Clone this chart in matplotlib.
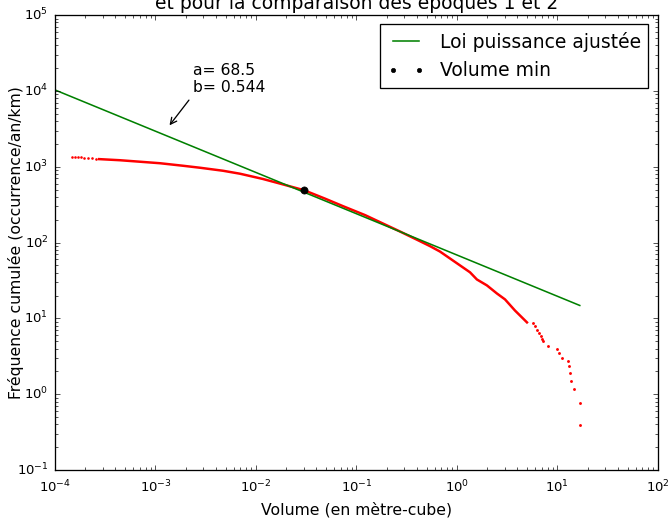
import matplotlib
matplotlib.use('Agg')
import matplotlib.pyplot as plt

head_vol = [1.48e-4, 1.58e-4, 1.69e-4, 1.82e-4, 1.95e-4, 2.13e-4, 2.33e-4, 2.56e-4]
head_freq = [1355, 1355, 1334, 1334, 1312, 1294, 1294, 1274]

dense_vol = [2.75e-4, 4.44e-4, 7.02e-4, 1.11e-3, 1.88e-3, 2.77e-3, 4.70e-3, 6.93e-3,
             1.17e-2, 1.73e-2, 3.01e-2, 4.86e-2, 7.35e-2, 0.122, 0.184, 0.271,
             0.400, 0.538, 0.677, 0.912, 1.35, 1.58, 1.99, 2.50, 3.01, 3.78, 4.98]
dense_freq = [1260, 1218, 1164, 1112, 1030, 970, 885, 809,
              690, 600, 490, 380, 302, 230, 178, 140,
              109, 89.9, 76.2, 58.0, 40.5, 32.6, 27.2, 21.3, 17.8, 12.7, 8.85]

tail_vol = [5.70, 5.97, 6.25, 6.55, 6.86, 7.02, 7.18, 8.04, 9.88, 10.3, 11.1,
            12.7, 13.0, 13.3, 13.6, 14.6, 16.7, 16.7]
tail_freq = [8.60, 7.85, 6.95, 6.35, 5.80, 5.29, 4.98, 4.28, 3.91, 3.46, 2.98,
             2.72, 2.33, 1.89, 1.48, 1.16, 0.762, 0.391]

# fitted power law end points and minimum volume
fit_vol = [1e-4, 16.7]
fit_freq = [1.03e4, 14.8]
vmin_vol = [0.0301]
vmin_freq = [490]
a, b = 68.5, 0.544

plt.style.use('classic')
plt.rcParams['xtick.major.pad'] = 7
plt.rcParams['ytick.major.pad'] = 5
plt.rcParams['xtick.labelsize'] = 10.2
plt.rcParams['ytick.labelsize'] = 10.2
fig = plt.figure(figsize=(672 / 94., 522 / 94.), dpi=94, facecolor='white')
ax = fig.add_axes([0.0818, 0.0996, 0.8972, 0.8715])

ax.plot(head_vol, head_freq, 'o', color='r', ms=2, mew=0)
ax.plot(dense_vol, dense_freq, '-', color='r', lw=1.9)
ax.plot(tail_vol, tail_freq, 'o', color='r', ms=2.2, mew=0)
ax.plot(fit_vol, fit_freq, 'g-', lw=1.2, label='Loi puissance ajustée')
ax.plot(vmin_vol, vmin_freq, 'k.', ms=11, label='Volume min')

ax.set_xscale('log')
ax.set_yscale('log')
ax.set_xlim(1e-4, 1e2)
ax.set_ylim(1e-1, 1e5)
ax.set_xlabel('Volume (en mètre-cube)')
ax.set_ylabel('Fréquence cumulée (occurrence/an/km)')
ax.yaxis.set_label_coords(-0.052, 0.5)
ax.set_title("Fréquence cumulée des volumes éboulés\net pour la comparaison des époques 1 et 2")

ax.annotate('a= %s\nb= %s' % (a, b), xy=(1.33e-3, 3300), xytext=(2.36e-3, 8850),
            ha='left', va='bottom', fontsize=12,
            arrowprops=dict(arrowstyle='->', color='k', relpos=(0, 0)))

ax.legend(loc='upper right', markerscale=0.6)
fig.savefig('out.png', dpi=94, facecolor='white')
